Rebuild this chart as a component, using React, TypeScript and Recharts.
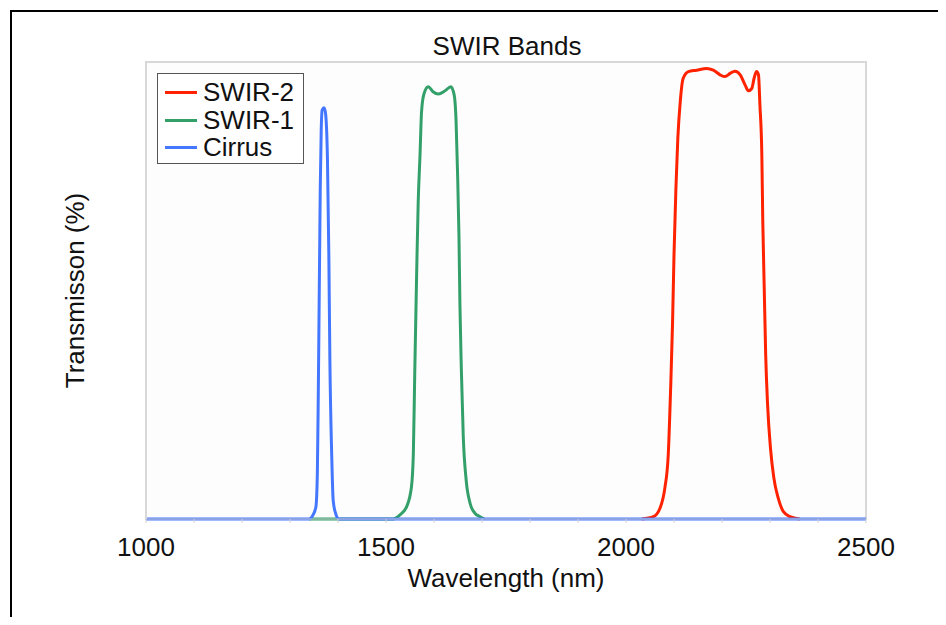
import React from 'react';
import { LineChart, Line, XAxis, YAxis, CartesianGrid, Legend, ReferenceArea } from 'recharts';

// wavelength (nm) / transmission (%)
const cirrusNm = [1000, 1340, 1348, 1354, 1357, 1359, 1361, 1363, 1365, 1367, 1371, 1374, 1378, 1381, 1383, 1387, 1390, 1396, 1401, 2500];
const cirrusT = [0, 0, 0.9, 2.7, 10, 28, 50, 72, 85, 89.5, 90, 88.8, 79, 57, 35.5, 13.6, 4, 0.9, 0, 0];

const swir1Nm = [1340, 1515, 1529, 1543, 1553, 1557, 1560, 1564, 1567, 1571, 1574, 1579, 1588, 1598, 1609, 1623, 1635, 1642, 1646, 1649, 1652, 1654, 1657, 1661, 1667, 1675, 1685, 1696, 1705];
const swir1T = [0, 0, 0.9, 2.7, 7, 14.4, 32.6, 54.5, 69, 80, 89, 93, 94.6, 93.5, 93, 93.7, 94.6, 92.8, 87, 76, 62, 47, 32.6, 18, 8.5, 3.5, 1.3, 0.5, 0];

const swir2Nm = [2033, 2057, 2071, 2081, 2088, 2093, 2097, 2100, 2104, 2108, 2113, 2119, 2130, 2147, 2168, 2182, 2196, 2206, 2217, 2227, 2238, 2248, 2255, 2262, 2267, 2272, 2276, 2279, 2283, 2285, 2288, 2291, 2295, 2301, 2308, 2317, 2328, 2342, 2362];
const swir2T = [0, 0.5, 2.4, 6.8, 14, 28.6, 43, 57.8, 72.4, 83.4, 91.3, 96.4, 97.9, 98.2, 98.6, 98.2, 97.2, 96.8, 97.5, 98, 97.2, 95, 93.7, 94.2, 96.5, 97.9, 97.2, 90.6, 79.6, 65, 50.5, 36, 25, 15.5, 9, 4.6, 1.6, 0.5, 0];

const xTicks = [1000, 1100, 1200, 1300, 1400, 1500, 1600, 1700, 1800, 1900, 2000, 2100, 2200, 2300, 2400, 2500];
const legendOrder = ['SWIR-2', 'SWIR-1', 'Cirrus'];

const FONT = '"Liberation Sans", Arial, Helvetica, sans-serif';
const FS = 26;

const toPoints = (nm: number[], t: number[]) => nm.map((x, i) => ({ nm: x, t: t[i] }));

const renderLegend = (props: any) => {
  const payload = [...(props.payload || [])].sort(
    (a: any, b: any) => legendOrder.indexOf(a.value) - legendOrder.indexOf(b.value)
  );
  return (
    <div
      style={{
        border: '1.5px solid #555',
        background: '#fff',
        padding: '5px 9px 1px 7px',
        fontFamily: FONT,
        fontSize: FS,
        color: '#111',
      }}
    >
      {payload.map((entry: any) => (
        <div key={entry.value} style={{ display: 'flex', alignItems: 'center', height: 27.5, lineHeight: '27.5px' }}>
          <span style={{ display: 'inline-block', width: 32, height: 3, background: entry.color, marginRight: 6 }} />
          {entry.value}
        </div>
      ))}
    </div>
  );
};

export default function App() {
  const swir2Data = toPoints(swir2Nm, swir2T);
  const swir1Data = toPoints(swir1Nm, swir1T);
  const cirrusData = toPoints(cirrusNm, cirrusT);

  return (
    <div style={{ position: 'relative', width: 946, height: 625, margin: -8, background: '#fff', overflow: 'hidden' }}>
      <div
        style={{
          position: 'absolute',
          left: 10,
          top: 10,
          width: 929,
          height: 700,
          border: '2px solid #000',
        }}
      />
      <div
        style={{
          position: 'absolute',
          left: 146,
          top: 33,
          width: 722,
          textAlign: 'center',
          fontFamily: FONT,
          fontSize: FS,
          lineHeight: '26px',
          color: '#111',
        }}
      >
        SWIR Bands
      </div>
      <div style={{ position: 'absolute', left: 0, top: 0 }}>
        <LineChart width={946} height={625} margin={{ top: 62, right: 80, bottom: 76, left: 86 }}>
          <CartesianGrid fill="#fdfdfd" stroke="none" />
          <XAxis
            dataKey="nm"
            type="number"
            domain={[1000, 2500]}
            ticks={xTicks}
            allowDataOverflow
            height={30}
            axisLine={{ stroke: '#d0d0d0' }}
            tickLine={{ stroke: '#d0d0d0' }}
            tickSize={4}
            tickMargin={15}
            tickFormatter={(v: number) => (v % 500 === 0 ? String(v) : '')}
            tick={{ fill: '#111', fontSize: FS, fontFamily: FONT }}
            label={{ value: 'Wavelength (nm)', position: 'bottom', offset: 20, fill: '#111', fontSize: FS, fontFamily: FONT }}
          />
          <YAxis
            type="number"
            domain={[0, 100]}
            width={60}
            tick={false}
            tickLine={false}
            axisLine={{ stroke: '#d8d8d8', strokeWidth: 2 }}
            label={{
              value: 'Transmisson (%)',
              angle: -90,
              position: 'left',
              offset: 11,
              fill: '#111',
              fontSize: FS,
              fontFamily: FONT,
              style: { textAnchor: 'middle' },
            }}
          />
          <ReferenceArea x1={1000} x2={2500} y1={0} y2={100} fill="none" stroke="#d8d8d8" strokeWidth={2} />
          <Legend
            layout="vertical"
            align="center"
            verticalAlign="middle"
            content={renderLegend}
            wrapperStyle={{ left: 157, top: 73, width: 'auto' }}
          />
          <Line data={swir2Data} dataKey="t" name="SWIR-2" type="monotone" stroke="#ff2200" strokeWidth={3} dot={false} activeDot={false} isAnimationActive={false} />
          <Line data={swir1Data} dataKey="t" name="SWIR-1" type="monotone" stroke="#33a06a" strokeWidth={3} dot={false} activeDot={false} isAnimationActive={false} />
          <Line data={cirrusData} dataKey="t" name="Cirrus" type="monotone" stroke="#4477ff" strokeWidth={3} dot={false} activeDot={false} isAnimationActive={false} />
        </LineChart>
      </div>
    </div>
  );
}
